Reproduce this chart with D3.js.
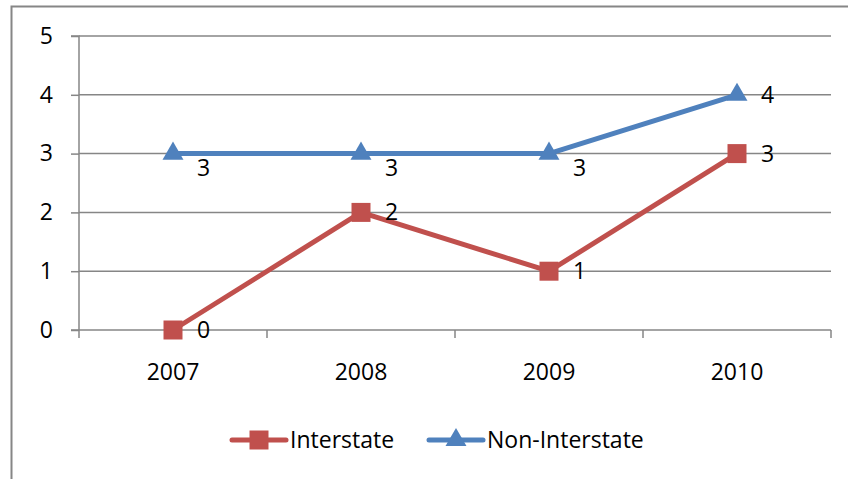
<!DOCTYPE html>
<html>
<head>
<meta charset="utf-8">
<script src="https://cdn.jsdelivr.net/npm/d3@7"></script>
<style>
  html, body { margin: 0; padding: 0; background: #fff; }
  svg { display: block; }
  text { font-family: "Open Sans", "Noto Sans", sans-serif; fill: #000; }
</style>
</head>
<body>
<svg id="chart" width="848" height="479"></svg>
<script>
// Data
const years = ["2007", "2008", "2009", "2010"];
const interstate = [0, 2, 1, 3];
const nonInterstate = [3, 3, 3, 4];
const yTicks = [0, 1, 2, 3, 4, 5];
const seriesNames = ["Interstate", "Non-Interstate"];

// Styling
const red = "#C0504D";
const blue = "#4F81BD";
const grid = "#868686";
const fontSize = 23;
// vertical nudges for the value labels of each series
const labelNudge = { "Interstate": [0, 0, 0, 0], "Non-Interstate": [14, 14, 14, 0] };

const svg = d3.select("#chart");

// outer chart border (right/bottom edges fall outside the canvas)
svg.append("rect")
  .attr("x", 11.5).attr("y", 6.5)
  .attr("width", 900).attr("height", 600)
  .attr("fill", "none").attr("stroke", grid).attr("stroke-width", 2);

const x = d3.scaleBand().domain(years).range([79, 831]).paddingInner(0).paddingOuter(0);
const y = d3.scaleLinear().domain([0, 5]).range([330, 36]);
const cx = d => x(d) + x.bandwidth() / 2;

// horizontal gridlines
svg.append("g")
  .selectAll("line")
  .data(yTicks.filter(t => t > 0))
  .join("line")
  .attr("x1", 79).attr("x2", 831)
  .attr("y1", d => y(d)).attr("y2", d => y(d))
  .attr("stroke", grid).attr("stroke-width", 1.5);

// y axis
const yAxis = d3.axisLeft(y).tickValues(yTicks).tickSize(8).tickPadding(18).tickFormat(d3.format("d"));
const gy = svg.append("g").attr("transform", "translate(79,0)").call(yAxis);
gy.select(".domain").attr("stroke", grid).attr("stroke-width", 1.5).attr("d", `M-8,${y(5)}H0V${y(0)}`);
gy.selectAll(".tick line").attr("stroke", grid).attr("stroke-width", 1.5);
gy.selectAll(".tick text").attr("font-size", fontSize).attr("font-family", "Open Sans").attr("fill", "#000");

// x axis
const gx = svg.append("g").attr("transform", `translate(0,${y(0)})`);
gx.append("line").attr("x1", 71).attr("x2", 831).attr("y1", 0).attr("y2", 0)
  .attr("stroke", grid).attr("stroke-width", 1.5);
const boundaries = years.map(d => x(d)).concat([x(years[years.length - 1]) + x.bandwidth()]);
gx.selectAll("line.tk").data(boundaries).join("line").attr("class", "tk")
  .attr("x1", d => d).attr("x2", d => d).attr("y1", 0).attr("y2", 8)
  .attr("stroke", grid).attr("stroke-width", 1.5);
gx.selectAll("text").data(years).join("text")
  .attr("x", d => cx(d)).attr("y", 50)
  .attr("text-anchor", "middle").attr("font-size", fontSize)
  .text(d => d);

// series
const series = [
  { name: seriesNames[0], values: interstate, color: red, marker: d3.symbolSquare, size: 361 },
  { name: seriesNames[1], values: nonInterstate, color: blue, marker: d3.symbolTriangle, size: 190 }
];

const line = d3.line().x((d, i) => cx(years[i])).y(d => y(d));

series.forEach(s => {
  const g = svg.append("g");
  g.append("path").attr("d", line(s.values))
    .attr("fill", "none").attr("stroke", s.color).attr("stroke-width", 5)
    .attr("stroke-linejoin", "round").attr("stroke-linecap", "round");
  g.selectAll("path.m").data(s.values).join("path").attr("class", "m")
    .attr("transform", (d, i) => `translate(${cx(years[i])},${y(d)})`)
    .attr("d", d3.symbol(s.marker, s.size))
    .attr("fill", s.color);
  g.selectAll("text").data(s.values).join("text")
    .attr("x", (d, i) => cx(years[i]) + 24)
    .attr("y", (d, i) => y(d) + labelNudge[s.name][i])
    .attr("dy", "0.35em")
    .attr("font-size", fontSize)
    .text(d => d);
});

// legend
const legendItems = [
  { s: series[0], x0: 232 },
  { s: series[1], x0: 429 }
];
const ly = 440;
legendItems.forEach(it => {
  const g = svg.append("g");
  g.append("line").attr("x1", it.x0).attr("x2", it.x0 + 54).attr("y1", ly).attr("y2", ly)
    .attr("stroke", it.s.color).attr("stroke-width", 5).attr("stroke-linecap", "round");
  g.append("path").attr("transform", `translate(${it.x0 + 27},${ly})`)
    .attr("d", d3.symbol(it.s.marker, it.s.size)).attr("fill", it.s.color);
  g.append("text").attr("x", it.x0 + 58).attr("y", ly).attr("dy", "0.35em")
    .attr("font-size", fontSize).text(it.s.name);
});
</script>
</body>
</html>
